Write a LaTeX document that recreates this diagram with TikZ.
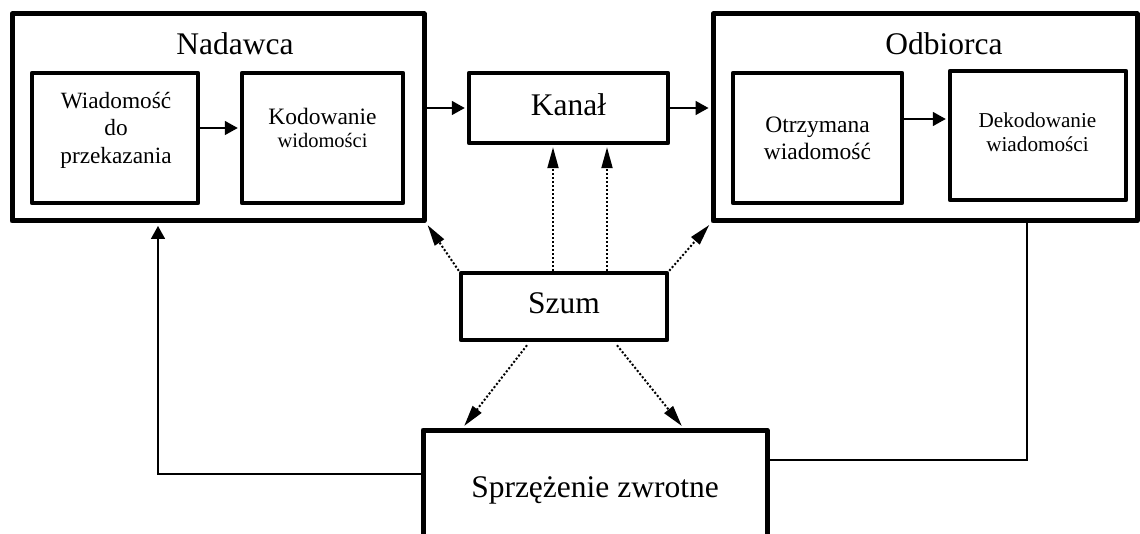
\documentclass[tikz,border=0pt]{standalone}
\usepackage{fontspec}
\setmainfont{Liberation Serif}
\usetikzlibrary{arrows.meta}

\begin{document}
\begin{tikzpicture}[x=1pt,y=-1pt,
  outerbox/.style={draw, line width=5pt, line join=round, inner sep=0pt},
  innerbox/.style={draw, line width=4.5pt, line join=round, inner sep=0pt},
  bigtext/.style={font=\fontsize{31.5pt}{36pt}\selectfont},
  txt/.style={align=center, inner sep=0pt},
  flow/.style={line width=1.7pt, -{Triangle[length=13pt,width=14pt]}, shorten >=2pt},
  link/.style={line width=1.7pt},
  noise/.style={line width=2pt, dash pattern=on 2pt off 2pt,
    -{Triangle[length=21pt,width=11pt]}, shorten >=2pt}]

\clip (0,0) rectangle (1140,534);

% sender block
\node[outerbox, minimum width=412pt, minimum height=207pt] (nad) at (218,117.5) {};
\node[bigtext, inner sep=0pt, anchor=base] (nadt) at (235,55) {Nadawca};
\node[innerbox, minimum width=166pt, minimum height=130pt] (wiad) at (115,138) {};
\node[txt, font=\fontsize{23.3pt}{27.5pt}\selectfont] (wiadt) at (116,130)
  {Wiadomość\\do\\przekazania};
\node[innerbox, minimum width=161pt, minimum height=130pt] (kod) at (322.5,138) {};
\node[txt, font=\fontsize{23.5pt}{23pt}\selectfont] (kodt) at (322.5,128)
  {Kodowanie\\{\fontsize{20.5pt}{23pt}\selectfont widomości}};

% channel
\node[innerbox, bigtext, minimum width=199pt, minimum height=70pt,
  text height=20pt, text depth=4pt] (kan) at (568.5,108) {Kanał};

% receiver block
\node[outerbox, minimum width=424pt, minimum height=207pt] (odb) at (925,117.5) {};
\node[bigtext, inner sep=0pt, anchor=base] (odbt) at (944,55) {Odbiorca};
\node[innerbox, minimum width=169pt, minimum height=130pt] (otrz) at (817.5,138) {};
\node[txt, font=\fontsize{23.5pt}{27pt}\selectfont] (otrzt) at (817.5,138.5)
  {Otrzymana\\wiadomość};
\node[innerbox, minimum width=176pt, minimum height=129pt] (dek) at (1038,135.5) {};
\node[txt, font=\fontsize{21.2pt}{24pt}\selectfont] (dekt) at (1037.5,132.7)
  {Dekodowanie\\wiadomości};

% noise
\node[innerbox, bigtext, minimum width=206pt, minimum height=67pt,
  text height=20pt, text depth=5pt] (szum) at (564,306.5) {Szum};

% feedback
\node[outerbox, bigtext, minimum width=344pt, minimum height=114pt,
  text height=24pt, text depth=4pt] (sprz) at (595,487) {Sprzężenie zwrotne};

% message flow
\draw[flow] ([yshift=10pt]wiad.east) -- ([yshift=10pt]wiad.east -| kod.west);
\draw[flow] (nad.east |- kan.west) -- (kan.west);
\draw[flow] (kan.east) -- (kan.east -| odb.west);
\draw[flow] ([yshift=19pt]otrz.east) -- ([yshift=19pt]otrz.east -| dek.west);

% noise influence
\draw[noise] (szum.north west) -- (nad.south east);
\draw[noise] (szum.north east) -- (odb.south west);
\draw[noise] ([xshift=-11pt]szum.north) -- ([xshift=-11pt]szum.north |- kan.south);
\draw[noise] ([xshift=43pt]szum.north) -- ([xshift=43pt]szum.north |- kan.south);
\draw[noise] ([xshift=-37pt,yshift=-3pt]szum.south) -- ([xshift=-132pt]sprz.north);
\draw[noise] ([xshift=53pt,yshift=-3pt]szum.south) -- ([xshift=88pt]sprz.north);

% feedback loop
\draw[flow, shorten >=2.5pt] ([yshift=13pt]sprz.west) -| ([xshift=-60pt]nad.south);
\draw[link] ([yshift=27pt]sprz.east) -| ([xshift=102pt]odb.south);

\end{tikzpicture}
\end{document}
